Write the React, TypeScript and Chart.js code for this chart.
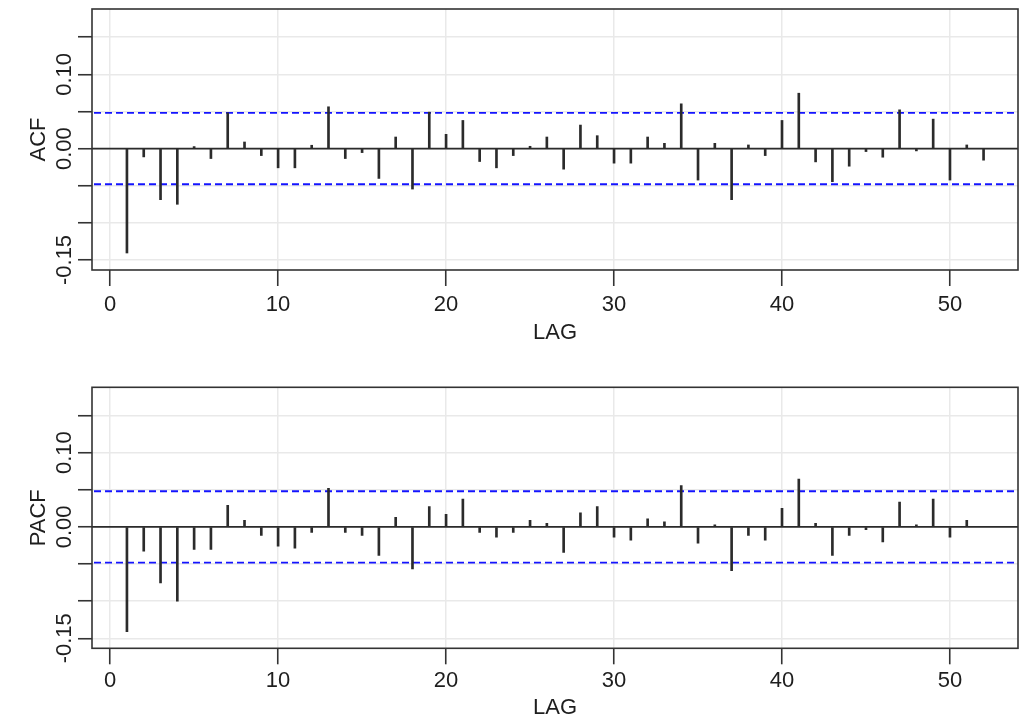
import React, { useEffect, useRef } from 'react';
import { Chart, registerables } from 'chart.js';

Chart.register(...registerables);

// ---------- data ----------
const ACF_LAGS = [
  1, 2, 3, 4, 5, 6, 7, 8, 9, 10, 11, 12, 13, 14, 15, 16, 17, 18, 19, 20, 21, 22, 23, 24, 25, 26,
  27, 28, 29, 30, 31, 32, 33, 34, 35, 36, 37, 38, 39, 40, 41, 42, 43, 44, 45, 46, 47, 48, 49, 50, 51, 52,
];
const ACF_VALUES = [
  -0.1406, -0.0112, -0.0688, -0.075, 0.0027, -0.0134, 0.0482, 0.0089, -0.0094, -0.0259,
  -0.0259, 0.0045, 0.0563, -0.0134, -0.0054, -0.0402, 0.0156, -0.0545, 0.0491, 0.0192,
  0.0379, -0.0174, -0.0259, -0.0094, 0.0031, 0.0156, -0.0277, 0.0317, 0.0174, -0.0196,
  -0.0196, 0.0156, 0.0071, 0.0603, -0.0424, 0.0071, -0.0688, 0.0049, -0.0094, 0.0379,
  0.0746, -0.0179, -0.0446, -0.0237, -0.004, -0.0116, 0.0522, -0.0031, 0.0397, -0.0424,
  0.0049, -0.0156,
];
const PACF_LAGS = [
  1, 2, 3, 4, 5, 6, 7, 8, 9, 10, 11, 12, 13, 14, 15, 16, 17, 18, 19, 20, 21, 22, 23, 24, 25, 26,
  27, 28, 29, 30, 31, 32, 33, 34, 35, 36, 37, 38, 39, 40, 41, 42, 43, 44, 45, 46, 47, 48, 49, 50, 51,
];
const PACF_VALUES = [
  -0.1411, -0.0326, -0.0754, -0.1, -0.0304, -0.0304, 0.029, 0.0089, -0.0116, -0.0259,
  -0.0286, -0.0076, 0.0518, -0.0076, -0.0116, -0.0384, 0.0129, -0.0567, 0.0272, 0.017,
  0.0375, -0.0076, -0.0138, -0.0076, 0.0089, 0.0049, -0.0344, 0.0188, 0.0272, -0.0138,
  -0.0179, 0.0107, 0.0067, 0.0558, -0.0219, 0.0027, -0.0589, -0.0116, -0.0179, 0.025,
  0.0643, 0.0049, -0.0384, -0.0116, -0.0036, -0.0201, 0.0335, 0.0027, 0.0375, -0.0138,
  0.0089,
];
const CI_BOUND = 0.048;

const X_TICKS = [0, 10, 20, 30, 40, 50];
const X_TICK_LABELS = ['0', '10', '20', '30', '40', '50'];
const Y_TICKS = [-0.15, -0.1, -0.05, 0, 0.05, 0.1, 0.15];
const Y_TICK_LABELS = ['-0.15', '', '', '0.00', '', '0.10', ''];
const X_MIN = -1.08;
const X_MAX = 54.05;
const Y_MIN = -0.1635;
const Y_MAX = 0.188;

// ---------- styling ----------
const FONT_FAMILY = '"Liberation Sans", Arial, sans-serif';
const TEXT_COLOR = '#1e1e1e';
const GRID_COLOR = '#e9e9e9';
const DARK = '#2b2b2b';
const WIDTH = 1028;

const panelPlugin = {
  id: 'acfPanel',
  beforeDatasetsDraw(chart: any) {
    const { ctx, chartArea: a, scales } = chart;
    const y = scales.y;
    ctx.save();
    ctx.beginPath();
    ctx.rect(a.left, a.top, a.right - a.left, a.bottom - a.top);
    ctx.clip();
    ctx.strokeStyle = '#1414ff';
    ctx.lineWidth = 1.8;
    ctx.setLineDash([7, 4]);
    [CI_BOUND, -CI_BOUND].forEach((v) => {
      const py = y.getPixelForValue(v);
      ctx.beginPath();
      ctx.moveTo(a.left + 2, py);
      ctx.lineTo(a.right, py);
      ctx.stroke();
    });
    ctx.setLineDash([]);
    ctx.strokeStyle = DARK;
    ctx.lineWidth = 1.6;
    const p0 = y.getPixelForValue(0);
    ctx.beginPath();
    ctx.moveTo(a.left, p0);
    ctx.lineTo(a.right, p0);
    ctx.stroke();
    ctx.restore();
  },
  afterDraw(chart: any) {
    const { ctx, chartArea: a, scales } = chart;
    const y = scales.y;
    ctx.save();
    ctx.strokeStyle = '#333333';
    ctx.lineWidth = 1.6;
    ctx.strokeRect(a.left, a.top, a.right - a.left, a.bottom - a.top);
    ctx.fillStyle = TEXT_COLOR;
    ctx.font = `22px ${FONT_FAMILY}`;
    ctx.textAlign = 'center';
    ctx.textBaseline = 'alphabetic';
    Y_TICKS.forEach((v, i) => {
      const label = Y_TICK_LABELS[i];
      if (!label) return;
      const py = y.getPixelForValue(v);
      ctx.save();
      ctx.translate(a.left - 21, py);
      ctx.rotate(-Math.PI / 2);
      ctx.fillText(label, 0, 0);
      ctx.restore();
    });
    ctx.restore();
  },
};

interface PanelProps {
  lags: number[];
  values: number[];
  yTitle: string;
  top: number;
  height: number;
  areaTop: number;
  areaBottom: number;
  titlePad: number;
  tickPad: number;
}

function AcfPanel({ lags, values, yTitle, top, height, areaTop, areaBottom, titlePad, tickPad }: PanelProps) {
  const ref = useRef<HTMLCanvasElement>(null);
  useEffect(() => {
    if (!ref.current) return;
    const font = { family: FONT_FAMILY, size: 22 };
    const chart = new Chart(ref.current, {
      type: 'bar',
      data: {
        datasets: [
          {
            data: lags.map((l, i) => ({ x: l, y: values[i] })),
            backgroundColor: DARK,
            borderWidth: 0,
            barThickness: 2,
          } as any,
        ],
      },
      options: {
        animation: false,
        responsive: false,
        devicePixelRatio: 1,
        layout: { padding: { top: areaTop, right: 10, left: 0, bottom: 0 } },
        plugins: { legend: { display: false }, tooltip: { enabled: false } },
        scales: {
          x: {
            type: 'linear',
            min: X_MIN,
            max: X_MAX,
            offset: false,
            afterBuildTicks: (s: any) => {
              s.ticks = X_TICKS.map((v) => ({ value: v }));
            },
            afterFit: (s: any) => {
              s.height = height - areaBottom;
            },
            ticks: {
              callback: (_v: any, i: number) => X_TICK_LABELS[i],
              font,
              color: TEXT_COLOR,
              padding: tickPad,
              maxRotation: 0,
              minRotation: 0,
              autoSkip: false,
            },
            grid: {
              color: GRID_COLOR,
              lineWidth: 1.5,
              tickColor: '#333333',
              tickWidth: 1.6,
              tickLength: 16,
              offset: false,
            },
            border: { display: false },
            title: {
              display: true,
              text: 'LAG',
              font,
              color: TEXT_COLOR,
              padding: { top: 0, bottom: titlePad },
            },
          } as any,
          y: {
            type: 'linear',
            min: Y_MIN,
            max: Y_MAX,
            afterBuildTicks: (s: any) => {
              s.ticks = Y_TICKS.map((v) => ({ value: v }));
            },
            afterFit: (s: any) => {
              s.width = 92;
            },
            ticks: { display: false },
            grid: {
              color: GRID_COLOR,
              lineWidth: 1.5,
              tickColor: '#333333',
              tickWidth: 1.6,
              tickLength: 14,
            },
            border: { display: false },
            title: {
              display: true,
              text: yTitle,
              font,
              color: TEXT_COLOR,
              padding: { top: 26, bottom: 0 },
            },
          } as any,
        },
      },
      plugins: [panelPlugin],
    });
    return () => chart.destroy();
  }, []);
  return (
    <canvas
      ref={ref}
      width={WIDTH}
      height={height}
      style={{ position: 'absolute', left: 0, top, width: WIDTH, height, display: 'block' }}
    />
  );
}

export default function App() {
  return (
    <div style={{ position: 'absolute', left: 0, top: 0, width: WIDTH, height: 723, background: '#ffffff' }}>
      <AcfPanel
        lags={ACF_LAGS}
        values={ACF_VALUES}
        yTitle="ACF"
        top={0}
        height={350}
        areaTop={9}
        areaBottom={270}
        titlePad={4}
        tickPad={6}
      />
      <AcfPanel
        lags={PACF_LAGS}
        values={PACF_VALUES}
        yTitle="PACF"
        top={370}
        height={353}
        areaTop={17.3}
        areaBottom={278.3}
        titlePad={2}
        tickPad={3}
      />
    </div>
  );
}
